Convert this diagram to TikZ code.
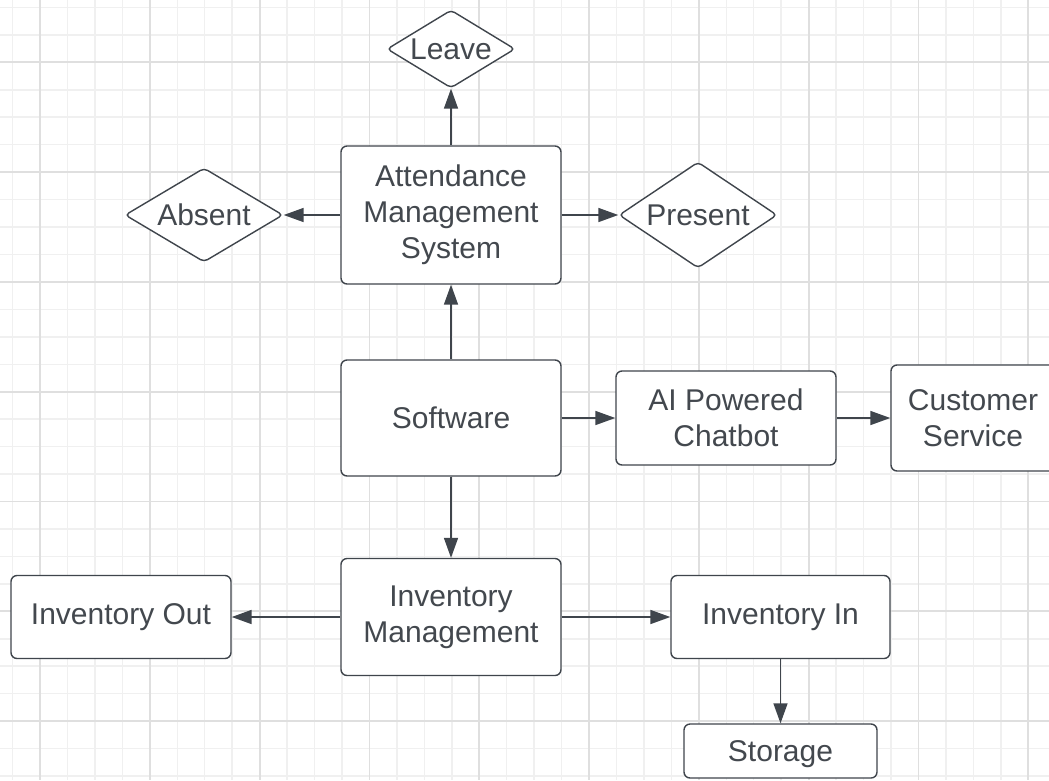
\documentclass[tikz,border=0pt]{standalone}
\usepackage{fontspec}
\setmainfont{Liberation Sans}
\usetikzlibrary{shapes.geometric,arrows.meta}

\definecolor{inkgray}{HTML}{3F454C}
\definecolor{txtgray}{HTML}{43484E}
\definecolor{gridminor}{HTML}{F0F0F0}
\definecolor{gridmajor}{HTML}{DFDFDF}

\tikzset{
	block/.style={draw=inkgray, line width=1.4pt, rounded corners=6pt, fill=white,
		inner sep=0pt, align=center, text=txtgray, font=\fontsize{30}{36}\selectfont},
	choice/.style={draw=inkgray, line width=1.4pt, diamond, rounded corners=4pt, fill=white,
		inner sep=0pt, text=txtgray, font=\fontsize{30}{36}\selectfont},
	link/.style={draw=inkgray, line width=1.6pt, -{Triangle[length=20pt,width=14pt]}}
}

\begin{document}
\begin{tikzpicture}[x=1pt,y=-1pt]

\useasboundingbox (0,0) rectangle (1049,780);
\fill[white] (0,0) rectangle (1049,780);
\clip (0,0) rectangle (1049,780);

% grid
\foreach \i in {0,...,38} {
	\draw[gridminor, line width=1.5pt] (12.55+27.45*\i,0) -- (12.55+27.45*\i,780);
}
\foreach \i in {0,...,28} {
	\draw[gridminor, line width=1.5pt] (0,7.4+27.45*\i) -- (1049,7.4+27.45*\i);
}
\foreach \i in {0,...,9} {
	\draw[gridmajor, line width=1.8pt] (40+109.8*\i,0) -- (40+109.8*\i,780);
}
\foreach \i in {0,...,6} {
	\draw[gridmajor, line width=1.8pt] (0,62.3+109.8*\i) -- (1049,62.3+109.8*\i);
}

% attendance branch
\node[block, minimum width=220pt, minimum height=138pt] (att) at (451,215) {Attendance\\Management\\System};
\node[choice, minimum width=128pt, minimum height=78pt, shape aspect=1.64] (leave) at (451,49) {Leave};
\node[choice, minimum width=158pt, minimum height=94pt, shape aspect=1.68] (absent) at (204,215) {Absent};
\node[choice, minimum width=158pt, minimum height=106pt, shape aspect=1.49] (present) at (698,215) {Present};

% software and chatbot
\node[block, minimum width=220pt, minimum height=116pt] (soft) at (451,418) {Software};
\node[block, minimum width=220pt, minimum height=94pt] (chat) at (726,418) {AI Powered\\Chatbot};
\node[block, minimum width=164pt, minimum height=106pt] (cust) at (973,418) {Customer\\Service};

% inventory branch
\node[block, minimum width=220pt, minimum height=117pt] (inv) at (451,617) {Inventory\\Management};
\node[block, minimum width=220pt, minimum height=83pt] (invout) at (121,617) {Inventory Out};
\node[block, minimum width=219pt, minimum height=83pt] (invin) at (780.5,617) {Inventory In};
\node[block, minimum width=193pt, minimum height=54pt, text depth=0pt] (store) at (780.5,751) {Storage};

\draw[link] (att) -- (leave);
\draw[link] (att) -- (absent);
\draw[link] (att) -- (present);
\draw[link] (soft) -- (att);
\draw[link] (soft) -- (chat);
\draw[link] (chat) -- (cust);
\draw[link] (soft) -- (inv);
\draw[link] (inv) -- (invout);
\draw[link] (inv) -- (invin);
\draw[link] (invin) -- (store);

\end{tikzpicture}
\end{document}
